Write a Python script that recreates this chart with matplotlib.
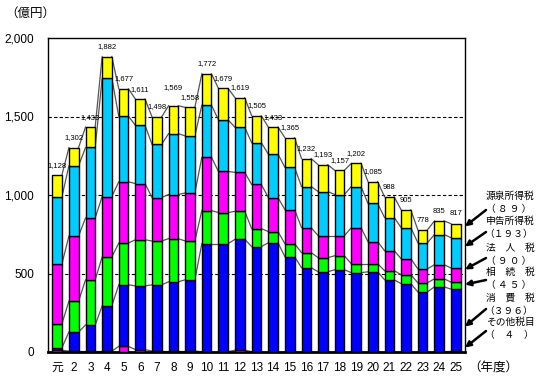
import numpy as np
import matplotlib
matplotlib.use('Agg')
import matplotlib.pyplot as plt

plt.rcParams['font.family'] = ['Noto Sans CJK JP', 'DejaVu Sans']
NUM_FONT = ['Liberation Sans', 'Noto Sans CJK JP']

# 年度
years = ['元'] + [str(i) for i in range(2, 26)]

# 税目別（億円）: 下から順に積み上げ
sonota  = [12, 5, 5, 5, 36, 15, 6, 6, 6, 2, 2, 12, 2, 2, 2, 2, 2, 2, 2, 2, 2, 2, 2, 2, 4]
shohi   = [15, 123, 167, 289, 392, 406, 422, 441, 454, 688, 688, 706, 669, 694, 605,
           535, 509, 522, 503, 509, 458, 433, 381, 413, 396]
sozoku  = [154, 196, 288, 311, 266, 294, 279, 275, 247, 211, 198, 178, 115, 71, 83,
           96, 90, 89, 57, 51, 58, 57, 58, 51, 45]
hojin   = [381, 415, 394, 385, 390, 358, 277, 281, 306, 339, 262, 248, 281, 217, 217,
           159, 140, 128, 230, 141, 127, 102, 89, 90, 90]
shinkoku = [428, 447, 449, 754, 418, 371, 339, 388, 363, 332, 328, 287, 266, 277, 269,
            262, 281, 262, 262, 243, 211, 198, 166, 192, 193]
gensen  = [138, 116, 130, 138, 175, 167, 175, 178, 182, 200, 201, 188, 172, 172, 189,
           178, 171, 154, 148, 139, 132, 113, 82, 87, 89]

series = [sonota, shohi, sozoku, hojin, shinkoku, gensen]
colors = ['#FF00FF', '#0000FF', '#00FF00', '#FF00FF', '#00CCFF', '#FFFF00']
names = ['その他税目', '消　費　税', '相　続　税', '法　人　税', '申告所得税', '源泉所得税']


def zen(v):
    s = str(v).translate(str.maketrans('0123456789', '０１２３４５６７８９'))
    if len(s) == 1:
        return '（　' + s + '　）'
    if len(s) == 2:
        return '（ ' + s[0] + ' ' + s[1] + ' ）'
    return '（' + s + '）'


fig = plt.figure(figsize=(5.41, 3.82), dpi=100)
ax = fig.add_axes([48 / 541, 30 / 382, 417 / 541, 314 / 382])

x = np.arange(1, len(years) + 1)
w = 0.58
data = np.array(series, dtype=float)
cum = np.cumsum(data, axis=0)
bottoms = np.vstack([np.zeros(len(years)), cum[:-1]])

for k in range(len(series)):
    ax.bar(x, data[k], w, bottom=bottoms[k], color=colors[k], edgecolor='black',
           linewidth=1, zorder=3)

# 区分線
for k in range(len(series)):
    for i in range(len(years) - 1):
        ax.plot([x[i] + w / 2, x[i + 1] - w / 2], [cum[k][i], cum[k][i + 1]],
                color='#555555', linewidth=0.9, zorder=2)

# 合計ラベル（重なる所は少し上げる）
lift = {7: 55}
totals = cum[-1]
for i, (xi, t) in enumerate(zip(x, totals)):
    ax.text(xi, t + 40 + lift.get(i, 0), f'{int(round(t)):,}', ha='center', va='bottom',
            fontsize=5.5, family=NUM_FONT, zorder=4)

for yv in [500, 1000, 1500]:
    ax.axhline(yv, color='black', linewidth=0.8, linestyle=(0, (3, 2)), zorder=1)

ax.set_xlim(0.45, 25.55)
ax.set_ylim(0, 2000)
ax.set_yticks([0, 500, 1000, 1500, 2000])
ax.set_yticklabels(['0', '500', '1,000', '1,500', '2,000'], fontsize=8.5, family=NUM_FONT)
ax.set_xticks(x)
ax.set_xticklabels(years, fontsize=8.5, family=NUM_FONT)
ax.tick_params(axis='both', length=0)
ax.tick_params(axis='y', pad=10)
ax.tick_params(axis='x', pad=7)
for s in ax.spines.values():
    s.set_linewidth(1)
    s.set_color('black')
ax.spines['bottom'].set_linewidth(2)

fig.text(5 / 541, 1 - 13 / 382, '（億円）', fontsize=9, va='center', ha='left')
fig.text(468 / 541, 1 - 368 / 382, '（年度）', fontsize=9, va='center', ha='left')

# 凡例（右側）
label_y = [196, 221, 248, 272, 298, 322]
heads = [800, 672, 526, 430, 162, 28]
tails = [210, 232, 258, 280, 309, 331]
order = [5, 4, 3, 2, 1, 0]
for j, k in enumerate(order):
    fig.text(510 / 541, 1 - label_y[j] / 382, names[k], fontsize=7, ha='center', va='center')
    fig.text(509 / 541, 1 - (label_y[j] + 13) / 382, zen(series[k][-1]), fontsize=7,
             ha='center', va='center')
    ax.annotate('', xy=(1.0, heads[j]), xycoords=('axes fraction', 'data'),
                xytext=(486, 382 - tails[j]), textcoords='figure pixels',
                arrowprops=dict(arrowstyle='-|>', color='black', lw=1.8,
                                mutation_scale=8, shrinkA=0, shrinkB=0),
                annotation_clip=False)

plt.savefig('out.png', dpi=100)
plt.close()
